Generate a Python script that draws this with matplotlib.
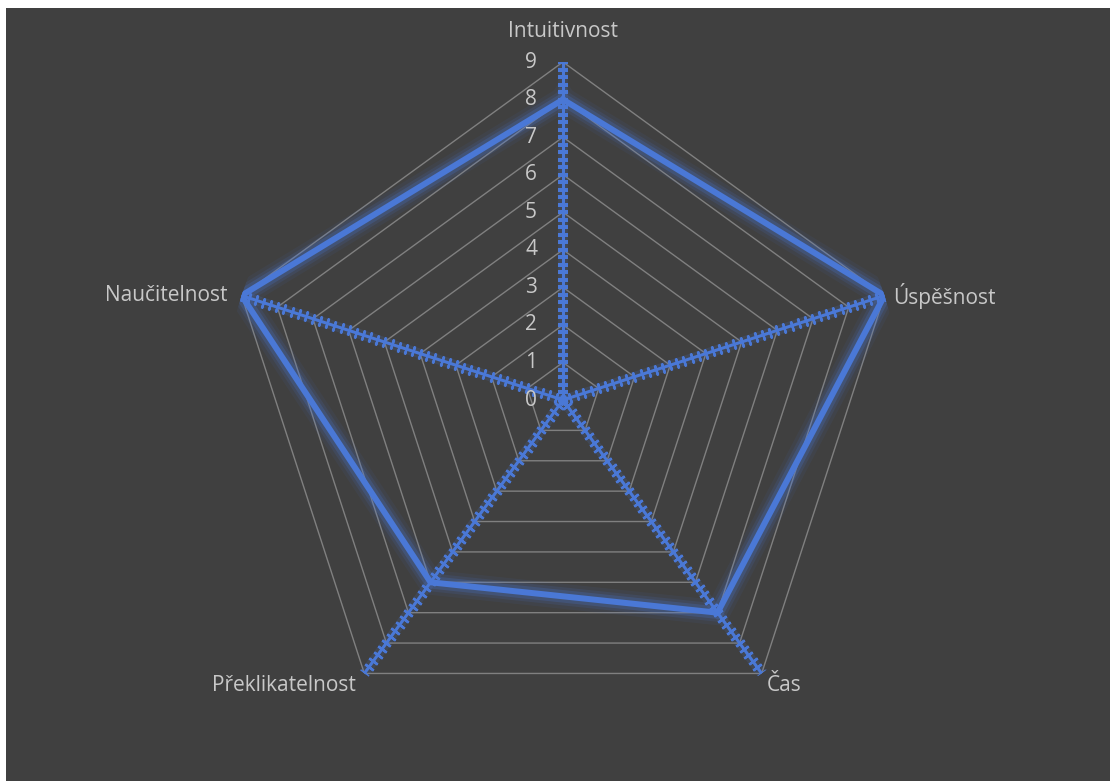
import numpy as np
import matplotlib.pyplot as plt
from matplotlib.patches import Rectangle

# data
categories = ['Intuitivnost', 'Úspěšnost', 'Čas', 'Překlikatelnost', 'Naučitelnost']
values = [8, 9, 7, 6, 9]
levels = list(range(0, 10))

bg = '#404040'
blue = '#4a78d6'
grid_col = '#808080'
text_col = '#c8c8c8'

fig = plt.figure(figsize=(11.1, 7.81), dpi=100, facecolor='white')
# dark chart area with thin white border on top/left
fig.patches.append(Rectangle((6 / 1110, 0), 1, 1 - 8 / 781, transform=fig.transFigure,
                             facecolor=bg, edgecolor='none', zorder=-10))

cx, cy, R = 563, 400, 338
ax = fig.add_axes([(cx - R) / 1110, (781 - cy - R) / 781, 2 * R / 1110, 2 * R / 781],
                  projection='polar')
ax.set_zorder(1)
ax.set_facecolor('none')
ax.set_theta_zero_location('N')
ax.set_theta_direction(-1)
ax.set_ylim(0, max(levels))
ax.grid(False)
ax.spines['polar'].set_visible(False)
ax.set_xticks([])
ax.set_yticks([])

n = len(categories)
theta = np.arange(n) * 2 * np.pi / n
theta_c = np.append(theta, theta[0])

# pentagon gridlines
for lv in levels[1:]:
    ax.plot(theta_c, [lv] * (n + 1), color=grid_col, lw=1.0, zorder=1)

# spokes with minor tick marks
minor = np.arange(0, max(levels) + 0.001, 0.2)
for i, t in enumerate(theta):
    ax.plot([t, t], [0, max(levels)], color=blue, lw=7, alpha=0.15, zorder=2)
    ax.plot([t, t], [0, max(levels)], color=blue, lw=2.2, zorder=3)
    phi = 90 - 72 * i
    ax.plot([t] * len(minor), minor, ls='none', marker=(2, 2, phi), ms=7.5,
            mew=1.7, color=blue, zorder=3)

# series with glow
vals_c = values + values[:1]
for w, a in [(18, 0.07), (13, 0.12), (9, 0.22)]:
    ax.plot(theta_c, vals_c, color=blue, lw=w, alpha=a, solid_joinstyle='miter', zorder=4)
ax.plot(theta_c, vals_c, color=blue, lw=4.3, solid_joinstyle='miter', zorder=5)

# radial labels
for lv in levels:
    ax.annotate(str(lv), (0, lv), xytext=(-23, 0), textcoords='offset points',
                ha='center', va='center', color=text_col, fontsize=15,
                fontfamily='Open Sans', zorder=6)

# category labels
offsets = [((0, 22), 'center'), ((6, 0), 'left'), ((4, -9), 'left'),
           ((-6, -9), 'right'), ((-10, 0), 'right')]
for t, lab, (off, ha) in zip(theta, categories, offsets):
    ax.annotate(lab, (t, max(levels)), xytext=off, textcoords='offset points',
                ha=ha, va='center', color=text_col, fontsize=15,
                fontfamily='Open Sans', annotation_clip=False, zorder=6)

fig.savefig('out.png', dpi=100, facecolor=fig.get_facecolor())
